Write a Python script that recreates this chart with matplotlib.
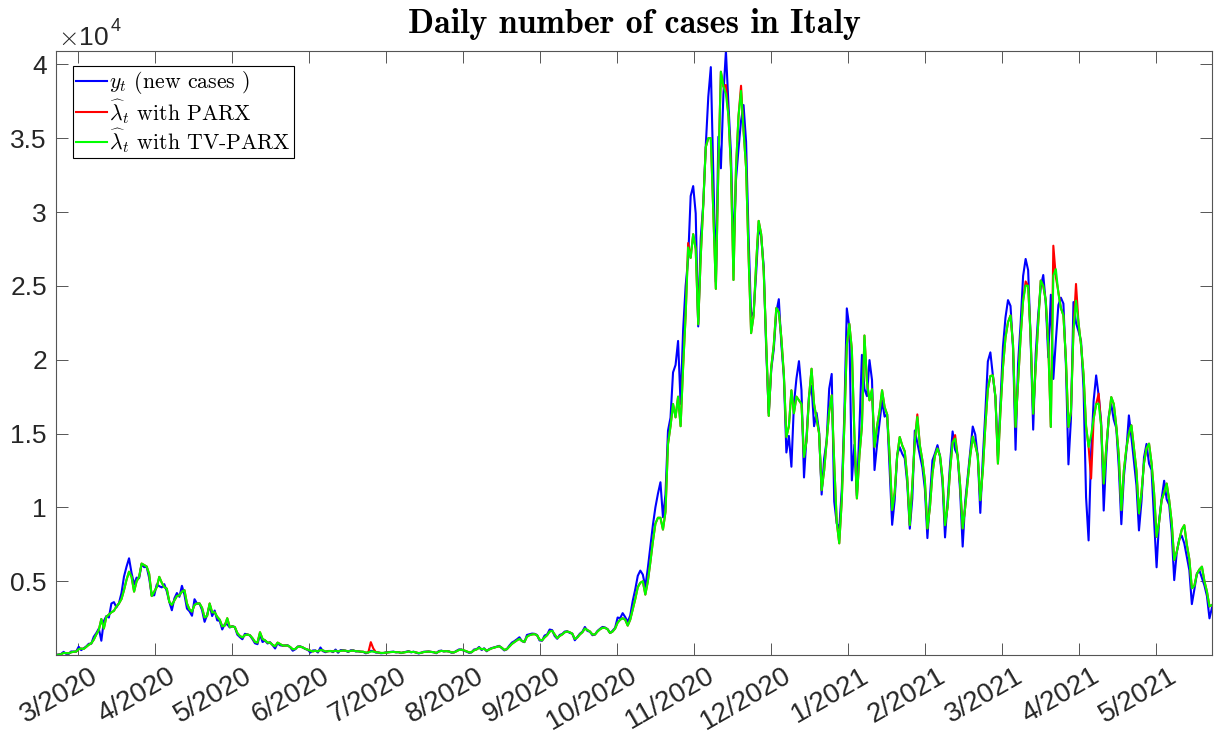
import numpy as np
import matplotlib
matplotlib.use("Agg")
import matplotlib.pyplot as plt
from matplotlib.ticker import FuncFormatter
from matplotlib.transforms import ScaledTranslation

plt.rcParams['mathtext.fontset'] = 'cm'

# daily new cases in Italy, 21/2/2020 .. 25/5/2021 (one value per day)
y_feb20 = [14, 42, 76, 221, 93, 78, 250, 238, 240]
y_mar20 = [566, 342, 466, 587, 769, 778, 1247, 1492, 1797, 977, 2313, 2651, 2547, 3497, 3590, 3233,
           3526, 4207, 5322, 5986, 6557, 5560, 4789, 5249, 5210, 6153, 5959, 5974, 5217, 4050, 4053]
y_apr20 = [4782, 4668, 4585, 4805, 4316, 3599, 3039, 3836, 4204, 3951, 4694, 4092, 3153, 2972, 2667,
           3786, 3493, 3491, 3047, 2256, 2729, 3370, 2646, 3021, 2357, 2324, 1739, 2091, 2086, 1872]
y_may20 = [1965, 1900, 1389, 1221, 1075, 1444, 1401, 1327, 1083, 802, 744, 1402, 888, 992, 789, 875,
           675, 451, 813, 665, 642, 652, 669, 531, 300, 397, 584, 593, 516, 416, 355]
y_jun20 = [178, 318, 321, 177, 518, 270, 197, 280, 283, 202, 379, 163, 346, 338, 301, 210, 329, 333,
           251, 262, 224, 218, 122, 190, 296, 259, 175, 174, 126, 142]
y_jul20 = [187, 201, 223, 235, 192, 208, 138, 193, 229, 276, 188, 234, 169, 114, 162, 230, 233, 249,
           219, 190, 129, 282, 306, 252, 275, 255, 170, 181, 289, 386, 379]
y_aug20 = [295, 239, 159, 190, 384, 402, 552, 347, 463, 259, 412, 481, 523, 574, 629, 479, 320, 403,
           642, 845, 947, 1071, 1210, 953, 878, 1367, 1411, 1460, 1444, 1365, 996]
y_sep20 = [978, 1326, 1397, 1733, 1695, 1297, 1108, 1370, 1434, 1597, 1616, 1501, 1458, 1008, 1229,
           1452, 1585, 1907, 1638, 1587, 1350, 1392, 1640, 1786, 1912, 1869, 1766, 1494, 1648, 1851]
y_oct20 = [2548, 2499, 2844, 2578, 2257, 2677, 3678, 4458, 5372, 5724, 5456, 4619, 5901, 7332, 8804,
           10010, 10925, 11705, 9338, 10874, 15199, 16079, 19143, 19644, 21273, 17012, 21994, 24991,
           26831, 31084, 31758]
y_nov20 = [29907, 22253, 28244, 30550, 34505, 37809, 39811, 32616, 25271, 35098, 32961, 37978, 40902,
           37255, 33979, 27354, 32191, 34283, 36176, 37242, 34767, 28337, 22930, 23232, 25853, 29003,
           28352, 26323, 20648, 16377]
y_dec20 = [19350, 20709, 23225, 24099, 21052, 18887, 13720, 14842, 12756, 16999, 18727, 19903, 17938,
           12030, 14844, 17572, 18236, 15500, 16400, 15104, 10872, 13318, 14522, 18040, 19037, 10407,
           8913, 8585, 11212, 16202, 23477]
y_jan21 = [22211, 11831, 14245, 10800, 15378, 20331, 18020, 17533, 19978, 18627, 12532, 14242, 15774,
           17246, 16146, 16310, 12545, 8824, 10497, 13571, 14078, 13633, 13331, 11629, 8561, 10593,
           15204, 14372, 13574, 12715, 11252]
y_feb21 = [7925, 10630, 13189, 13659, 14218, 13442, 11641, 7970, 10403, 12956, 15146, 13908, 13532,
           11068, 7351, 10386, 12074, 13762, 15479, 14931, 13452, 9630, 13314, 16424, 19886, 20499,
           18916, 17455]
y_mar21 = [13500, 17083, 20884, 22865, 24036, 23641, 20765, 13902, 19749, 22409, 25673, 26824, 26062,
           21315, 15267, 20396, 23059, 24935, 25735, 23832, 20159, 24400, 18700, 21300, 23700, 24200,
           23800, 19600, 12916, 16017, 23904]
y_apr21 = [22500, 21932, 21261, 18025, 10680, 7767, 13708, 17221, 18938, 17567, 15746, 9789, 13447,
           16168, 16974, 15943, 15370, 12694, 8864, 12074, 13844, 16232, 14761, 13158, 11500, 8444,
           10404, 13385, 14300, 12965]
y_may21 = [12545, 9148, 5948, 9116, 10585, 11807, 10554, 10176, 8292, 5080, 6946, 7852, 8085, 7567,
           6659, 5753, 3455, 4452, 5506, 5741, 5218, 4717, 3995, 2490, 3224]

# fitted intensity, TV-PARX
g_feb20 = [10, 30, 60, 150, 140, 120, 190, 230, 240]
g_mar20 = [400, 450, 420, 560, 700, 800, 1050, 1400, 1700, 2450, 1800, 2600, 2750, 2900, 3000, 3300,
           3500, 3800, 4400, 5100, 5650, 5300, 4300, 5000, 5300, 6200, 6100, 6000, 5500, 4000, 4300]
g_apr20 = [4600, 5300, 4900, 4600, 4500, 3600, 3400, 3700, 4000, 4050, 4300, 4400, 3500, 3100, 2950,
           3400, 3500, 3500, 3200, 2550, 2650, 3500, 2900, 2900, 2600, 2400, 1950, 2000, 2500, 1900]
g_may20 = [1950, 1900, 1500, 1300, 1200, 1350, 1400, 1350, 1150, 900, 850, 1550, 1100, 1000, 850, 850,
           700, 600, 850, 750, 650, 650, 650, 550, 400, 420, 570, 580, 520, 430, 370]
g_jun20 = [300, 250, 300, 250, 350, 320, 250, 260, 280, 250, 300, 250, 290, 310, 300, 250, 290, 310,
           270, 260, 240, 230, 170, 180, 240, 250, 200, 180, 150, 150]
g_jul20 = [170, 190, 210, 220, 200, 200, 160, 180, 210, 250, 210, 220, 180, 140, 160, 210, 230, 240,
           220, 200, 150, 240, 290, 260, 270, 250, 190, 190, 260, 350, 370]
g_aug20 = [320, 260, 190, 200, 330, 390, 500, 400, 430, 300, 380, 460, 510, 560, 600, 500, 360, 400,
           580, 760, 880, 1000, 1100, 960, 900, 1250, 1350, 1400, 1420, 1350, 1050]
g_sep20 = [1000, 1200, 1350, 1600, 1650, 1400, 1150, 1300, 1400, 1550, 1600, 1550, 1450, 1100, 1200,
           1400, 1550, 1800, 1700, 1600, 1400, 1400, 1600, 1750, 1850, 1850, 1750, 1500, 1600, 1800]
g_oct20 = [2200, 2400, 2500, 2400, 2000, 2400, 3100, 3800, 4600, 4900, 5000, 4100, 5000, 6300, 7700,
           8900, 9300, 9300, 8500, 9700, 14300, 15500, 17000, 16100, 17500, 15500, 19500, 23000, 27600,
           26900, 28500]
g_nov20 = [27500, 22400, 27000, 30500, 34400, 35000, 35000, 30000, 24800, 33000, 39500, 38500, 38000,
           36500, 33000, 25400, 33000, 36500, 38200, 35500, 33000, 27000, 21800, 23000, 26500, 29400,
           28500, 26000, 21000, 16200]
g_dec20 = [19500, 21000, 23500, 23220, 21500, 19000, 14770, 15500, 17930, 16380, 17500, 17250, 17000,
           13420, 14500, 17500, 19390, 17000, 16000, 15000, 11170, 12500, 14500, 16500, 17590, 13000,
           9000, 7570, 10500, 15500, 21000]
g_jan21 = [22430, 20700, 15000, 10610, 13500, 15500, 21640, 18500, 17250, 18000, 14100, 15500, 16500,
           17930, 16800, 16300, 13500, 9820, 11000, 13500, 14770, 14200, 13800, 12000, 8800, 11500,
           14500, 16120, 14200, 13200, 11800]
g_feb21 = [8580, 10000, 12300, 13500, 13990, 13500, 12000, 8800, 10000, 12500, 14400, 14660, 13500,
           11500, 8580, 10000, 11800, 13500, 14800, 14210, 13500, 10490, 12500, 15500, 18000, 18900,
           18940, 17500]
g_mar21 = [12970, 16500, 19500, 21500, 22540, 23000, 21000, 15450, 18500, 21500, 24000, 25020, 25000,
           21500, 16350, 19500, 22500, 25360, 25000, 24000, 21000, 15450, 25700, 26130, 24500, 23500,
           23000, 20000, 15450, 16500, 22000]
g_apr21 = [24000, 22500, 21000, 19000, 15500, 14100, 14900, 16000, 17000, 17030, 15500, 11620, 14000,
           16000, 17470, 17000, 15500, 13500, 9820, 12500, 14000, 15000, 15560, 14000, 12500, 9600,
           11000, 13000, 14000, 14320]
g_may21 = [13000, 11000, 8010, 9000, 10500, 11000, 11620, 10500, 9000, 6440, 7000, 7800, 8500, 8800,
           7500, 6500, 4530, 4700, 5500, 5800, 5990, 5000, 4300, 3300, 3400]

# days where the PARX fit differs from the TV-PARX one (day number, value)
parx_days = [125, 126, 251, 266, 272, 342, 357, 385, 396, 397, 398, 405, 411, 414]
parx_vals = [880, 450, 27900, 38600, 38550, 16300, 14900, 25300, 27720, 25600, 24600, 25130, 11960, 17700]

month_labels = ['3/2020', '4/2020', '5/2020', '6/2020', '7/2020', '8/2020', '9/2020', '10/2020',
                '11/2020', '12/2020', '1/2021', '2/2021', '3/2021', '4/2021', '5/2021']

y_t = np.array(y_feb20 + y_mar20 + y_apr20 + y_may20 + y_jun20 + y_jul20 + y_aug20 + y_sep20
               + y_oct20 + y_nov20 + y_dec20 + y_jan21 + y_feb21 + y_mar21 + y_apr21 + y_may21, float)
lam_tv = np.array(g_feb20 + g_mar20 + g_apr20 + g_may20 + g_jun20 + g_jul20 + g_aug20 + g_sep20
                  + g_oct20 + g_nov20 + g_dec20 + g_jan21 + g_feb21 + g_mar21 + g_apr21 + g_may21, float)
lam_parx = lam_tv.copy()
lam_parx[parx_days] = parx_vals
t = np.arange(len(y_t))

W, H = 1214, 731
fig = plt.figure(figsize=(W / 100, H / 100), dpi=100)
ax = fig.add_axes([56 / W, 1 - 655 / H, 1156 / W, 604 / H])

ax.plot(t, y_t, color=(0, 0, 1), lw=1.5, label=r'$y_t$ (new cases )')
ax.plot(t, lam_parx, color=(1, 0, 0), lw=1.5, label=r'$\widehat{\lambda}_t$ with PARX')
ax.plot(t, lam_tv, color=(0, 1, 0), lw=1.5, label=r'$\widehat{\lambda}_t$ with TV-PARX')

ax.set_xlim(0, len(t) - 1)
ax.set_ylim(min(y_t.min(), lam_tv.min()), y_t.max())

axis_col = '#262626'
ax.set_xticks(np.linspace(8.7, 436.8, len(month_labels)))
ax.set_xticklabels(month_labels, rotation=30, ha='right', va='top', rotation_mode='anchor')
ax.set_yticks(np.arange(5000, 40001, 5000))
ax.yaxis.set_major_formatter(FuncFormatter(lambda v, p: f'{v / 1e4:g}'))
ax.tick_params(direction='in', length=8.3, width=0.7, color='#555555', top=True, right=True,
               labelcolor=axis_col)
ax.tick_params(axis='y', pad=6.5, labelsize=19)
ax.tick_params(axis='x', pad=2, labelsize=20)
for lab in ax.get_xticklabels() + ax.get_yticklabels():
    lab.set_family('Liberation Sans')
for lab in ax.get_xticklabels():
    lab.set_transform(lab.get_transform() + ScaledTranslation(0.12, -0.05, fig.dpi_scale_trans))
for s in ax.spines.values():
    s.set_color('#555555')
    s.set_linewidth(0.8)

fig.text(58 / W, 1 - 45 / H, r'$\times$10', fontsize=19, family='Liberation Sans', color=axis_col,
         va='baseline', ha='left')
fig.text(111 / W, 1 - 31 / H, '4', fontsize=13, family='Liberation Sans', color=axis_col,
         va='baseline', ha='left')

ax.set_title('Daily number of cases in Italy', family='cmb10', fontsize=24.5, pad=13)

leg = ax.legend(loc='upper left', bbox_to_anchor=(17 / 1156, 1 - 15 / 604), borderaxespad=0,
                prop={'family': ['cmr10', 'DejaVu Serif'], 'size': 15.7}, fancybox=False,
                framealpha=1, edgecolor='black', handlelength=1.4, handletextpad=0.1,
                labelspacing=0.02, borderpad=0.15)
leg.get_frame().set_linewidth(0.8)

fig.savefig('out.png', dpi=100)
